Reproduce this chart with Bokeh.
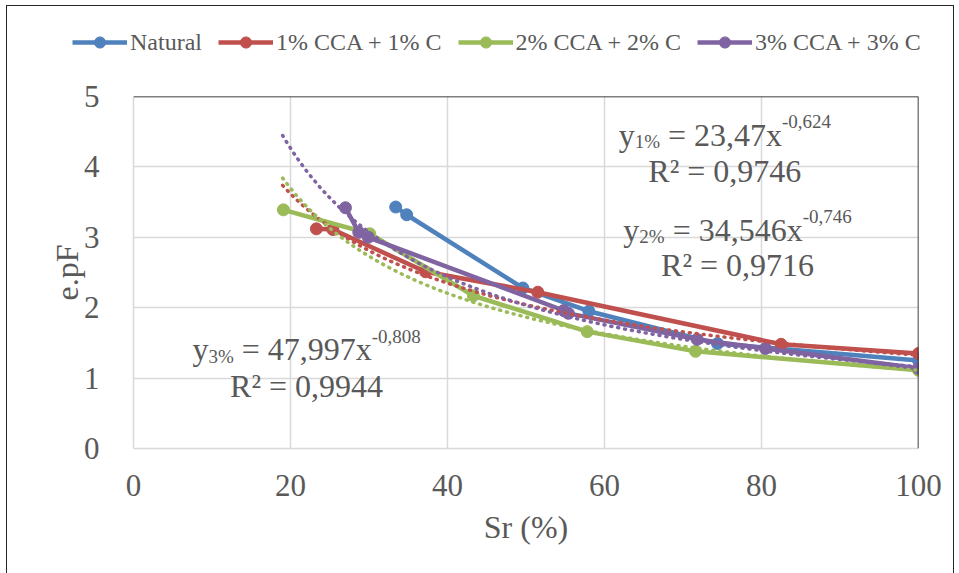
from bokeh.plotting import figure
from bokeh.layouts import column
from bokeh.models import Legend, LegendItem, Label, Span, Range1d, FixedTicker, InlineStyleSheet
from bokeh.embed import file_html
from bokeh.resources import INLINE
import numpy as np

# ---------------- data ----------------
series_names = ["Natural", "1% CCA + 1% C", "2% CCA + 2% C", "3% CCA + 3% C"]
series_colors = ["#4F81BD", "#C0504D", "#9BBB59", "#8064A2"]

natural_x = [33.4, 34.8, 49.6, 58.0, 74.4, 100.0]
natural_y = [3.43, 3.32, 2.28, 1.95, 1.49, 1.25]

cca1_x = [23.3, 25.4, 37.2, 51.5, 82.5, 100.0]
cca1_y = [3.12, 3.11, 2.51, 2.22, 1.48, 1.35]

cca2_x = [19.1, 30.1, 43.3, 57.8, 71.6, 100.0]
cca2_y = [3.39, 3.05, 2.17, 1.66, 1.38, 1.11]

cca3_x = [27.0, 28.7, 29.9, 54.8, 55.4, 71.8, 80.5, 100.0]
cca3_y = [3.42, 3.07, 3.00, 1.96, 1.92, 1.55, 1.42, 1.14]

# power trend lines y = a * x^b (for 1%, 2%, 3%)
trend_a = [23.47, 34.546, 47.997]
trend_b = [-0.624, -0.746, -0.808]
trend_x_start = 19.0
trend_x_end = 100.0
eq_sub = ["1%", "2%", "3%"]
eq_coef = ["23,47", "34,546", "47,997"]
eq_exp = ["-0,624", "-0,746", "-0,808"]
eq_r2 = ["0,9746", "0,9716", "0,9944"]

x_ticks = [0, 20, 40, 60, 80, 100]
y_ticks = [0, 1, 2, 3, 4, 5]

# ---------------- styles ----------------
FONT = "Liberation Serif"
TXT = "#595959"
GRID = "#D9D9D9"
LINE_W = 4.5
MARK = 12

all_x = [natural_x, cca1_x, cca2_x, cca3_x]
all_y = [natural_y, cca1_y, cca2_y, cca3_y]

# ---------------- legend strip (own figure, its frame fills it) ----------------
LEG_H = 70
leg = figure(width=959, height=LEG_H, output_backend="svg", toolbar_location=None, title=None,
             x_range=Range1d(0, 1), y_range=Range1d(0, 1), x_axis_type=None, y_axis_type=None,
             min_border_left=0, min_border_right=0, min_border_top=0, min_border_bottom=0)
leg.outline_line_color = None
leg.background_fill_color = "white"
leg.border_fill_color = "white"

p = figure(width=959, height=573 - LEG_H, output_backend="svg", toolbar_location=None, title=None,
           x_range=Range1d(0, 100), y_range=Range1d(0, 5),
           min_border_left=133, min_border_right=41, min_border_top=96 - LEG_H, min_border_bottom=125)

can_unalign = "frame_align" in leg.properties()
if can_unalign:
    leg.frame_align = False
    p.frame_align = False
leg_x = 72 if can_unalign else 72 - 133

items = []
for name, col, xs, ys in zip(series_names, series_colors, all_x, all_y):
    # the series drawn again in the strip, outside its visible range: only their legend glyphs show
    l = leg.line(xs, ys, line_color=col, line_width=LINE_W)
    s = leg.scatter(xs, ys, size=MARK, marker="circle", fill_color=col, line_color=col)
    items.append(LegendItem(label=name, renderers=[l, s]))
legend = Legend(items=items, orientation="horizontal", location=(leg_x, 14),
                label_text_font=FONT, label_text_font_size="24px", label_text_color=TXT,
                glyph_width=55, glyph_height=28, label_standoff=3, spacing=16,
                padding=0, margin=0, background_fill_alpha=0, border_line_color=None)
leg.add_layout(legend, "center")

# ---------------- main chart ----------------
p.outline_line_color = None
p.background_fill_color = "white"
p.border_fill_color = "white"

for ax in (p.xaxis[0], p.yaxis[0]):
    ax.major_tick_line_color = None
    ax.minor_tick_line_color = None
    ax.axis_line_color = GRID
    ax.axis_line_width = 1.5
    ax.major_label_text_font = FONT
    ax.major_label_text_font_size = "31px"
    ax.major_label_text_color = TXT
    ax.axis_label_text_font = FONT
    ax.axis_label_text_font_size = "32px"
    ax.axis_label_text_font_style = "normal"
    ax.axis_label_text_color = TXT

p.xaxis.ticker = FixedTicker(ticks=x_ticks)
p.yaxis.ticker = FixedTicker(ticks=y_ticks)
p.xaxis.axis_label = "Sr (%)"
p.yaxis.axis_label = "e.pF"
p.xaxis.major_label_standoff = 20
p.yaxis.major_label_standoff = 28
p.xaxis.axis_label_standoff = 10
p.yaxis.axis_label_standoff = -4

p.xgrid.grid_line_color = GRID
p.ygrid.grid_line_color = GRID
p.xgrid.grid_line_width = 1.5
p.ygrid.grid_line_width = 1.5

for col, xs, ys in zip(series_colors, all_x, all_y):
    p.line(xs, ys, line_color=col, line_width=LINE_W)
    p.scatter(xs, ys, size=MARK, marker="circle", fill_color=col, line_color=col)

# trend lines (dotted)
tx = np.linspace(trend_x_start, trend_x_end, 300)
for a, b, col in zip(trend_a, trend_b, series_colors[1:]):
    p.line(tx, a * tx ** b, line_color=col, line_width=3.5, line_dash="1 6", line_cap="round")

# frame top / right (black)
p.add_layout(Span(location=5, dimension="width", line_color="#000000", line_width=1.5))
p.add_layout(Span(location=100, dimension="height", line_color="#000000", line_width=1.5))

# ---------------- equations ----------------
MAIN = 32
SMALL = 19
WID = {"0": .5, "1": .5, "2": .5, "3": .5, "4": .5, "5": .5, "6": .5, "7": .5, "8": .5, "9": .5,
       ",": .25, " ": .25, "=": .564, "x": .5, "y": .5, "%": .833, "-": .333, "R": .667, "\u00b2": .3}


def tw(s, size):
    return sum(WID.get(c, .5) for c in s) * size


BASE_SHIFT = 13
eq_pos = [(61.8, 4.275, 3.764), (62.4, 2.926, 2.415), (7.5, 1.222, 0.71)]
for i in range(3):
    x0, yb1, yb2 = eq_pos[i]
    parts = [("y", MAIN, 0, 0.0), (eq_sub[i], SMALL, -7, 0.0),
             ("= " + eq_coef[i] + "x", MAIN, 0, tw(" ", MAIN)), (eq_exp[i], SMALL, 13, 0.0)]
    off = 0.0
    for txt, sz, yo, gap in parts:
        off += gap
        p.add_layout(Label(x=x0, y=yb1, x_offset=off, y_offset=yo + BASE_SHIFT, text=txt,
                           text_font=FONT, text_font_size=f"{sz}px", text_color=TXT,
                           text_align="left", text_baseline="alphabetic"))
        off += tw(txt, sz)
    p.add_layout(Label(x=x0, y=yb2, x_offset=off / 2, y_offset=BASE_SHIFT, text="R\u00b2 = " + eq_r2[i],
                       text_font=FONT, text_font_size=f"{MAIN}px", text_color=TXT,
                       text_align="center", text_baseline="alphabetic"))

page = column(leg, p, spacing=0, stylesheets=[InlineStyleSheet(css=(
    ":host::after { content: ''; position: absolute; left: 6px; top: 5px; right: 5px; bottom: -20px;"
    " border: 1.5px solid #262626; pointer-events: none; z-index: 100; }"))])

open("out.html", "w").write(file_html(page, INLINE))
